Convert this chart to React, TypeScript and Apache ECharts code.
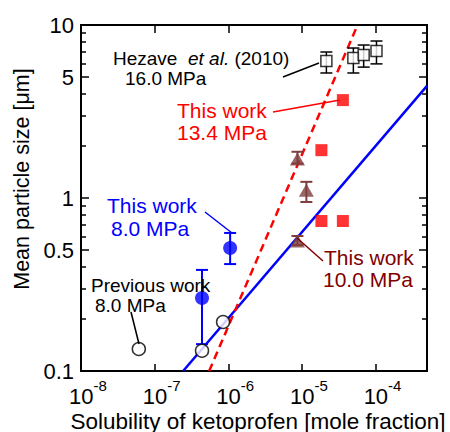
import React, { useEffect, useRef } from "react";
import * as echarts from "echarts";

const FONT = '"Liberation Sans", Arial, Helvetica, sans-serif';
const L = (v: number) => Math.log10(v);

// Axis ranges and ticks
const X_MIN = 1e-8;
const X_MAX = 5e-4;
const Y_MIN = 0.1;
const Y_MAX = 10;
const xTickValues = [1e-8, 1e-7, 1e-6, 1e-5, 1e-4];
const yLabelValues = [0.1, 0.5, 1, 5, 10];
const yMinorValues = [0.2, 0.3, 0.4, 0.6, 0.7, 0.8, 0.9, 2, 3, 4, 6, 7, 8, 9];

// Previous work 8.0 MPa (open circles)
const prevX = [6.1e-8, 4.4e-7, 8.5e-7];
const prevY = [0.134, 0.131, 0.192];

// This work 8.0 MPa (blue)
const blueX = [4.4e-7, 1.06e-6];
const blueY = [0.264, 0.514];
const blueLo = [0.143, 0.415];
const blueHi = [0.384, 0.628];

// This work 10.0 MPa (brown triangles)
const brownX = [8.7e-6, 1.15e-5, 8.7e-6];
const brownY = [1.68, 1.11, 0.564];
const brownLo = [1.58, 0.948, 0.535];
const brownHi = [1.85, 1.24, 0.603];

// This work 13.4 MPa (red squares)
const redX = [1.84e-5, 3.6e-5, 1.84e-5, 3.6e-5];
const redY = [1.89, 3.68, 0.736, 0.736];

// Hezave et al. (2010) 16.0 MPa (open squares)
const hezX = [2.15e-5, 5.0e-5, 6.9e-5, 1.03e-4];
const hezY = [6.2, 6.44, 6.71, 7.08];
const hezLo = [5.28, 5.28, 5.71, 5.96];
const hezHi = [6.98, 7.36, 7.66, 8.08];

// Fitted lines (end points)
const blueFitX = [2.44e-7, 5e-4];
const blueFitY = [0.1, 4.45];
const redFitX = [5.5e-7, 5.7e-5];
const redFitY = [0.1, 10];

const BROWN = "#7f3f3f";
const BROWN_TEXT = "#800000";

function pts(xs: number[], ys: number[]) {
  return xs.map((x, i) => [L(x), L(ys[i])]);
}
function errs(xs: number[], lo: number[], hi: number[]) {
  return xs.map((x, i) => [L(x), L(lo[i]), L(hi[i])]);
}
function errSeries(data: number[][], color: string, width: number) {
  return {
    type: "custom",
    xAxisIndex: 0,
    yAxisIndex: 0,
    z: 3,
    data,
    encode: { x: 0, y: [1, 2] },
    renderItem: (params: any, api: any) => {
      const x = api.value(0);
      const pLo = api.coord([x, api.value(1)]);
      const pHi = api.coord([x, api.value(2)]);
      const w = 6;
      const st = { stroke: color, lineWidth: width };
      return {
        type: "group",
        children: [
          { type: "line", shape: { x1: pLo[0], y1: pLo[1], x2: pHi[0], y2: pHi[1] }, style: st },
          { type: "line", shape: { x1: pLo[0] - w, y1: pLo[1], x2: pLo[0] + w, y2: pLo[1] }, style: st },
          { type: "line", shape: { x1: pHi[0] - w, y1: pHi[1], x2: pHi[0] + w, y2: pHi[1] }, style: st },
        ],
      };
    },
  };
}

function fmtY(v: number) {
  const r = Math.round(Math.pow(10, v) * 10) / 10;
  return String(r);
}

export default function App() {
  const ref = useRef<HTMLDivElement>(null);
  useEffect(() => {
    if (!ref.current) return;
    const chart = echarts.init(ref.current, null, { renderer: "svg" });
    const axisLine = { show: true, onZero: false, lineStyle: { color: "#000", width: 2 } };
    const tickStyle = { color: "#000", width: 1.5 };
    const xMin = L(X_MIN);
    const xMax = L(X_MAX);
    const yMin = L(Y_MIN);
    const yMax = L(Y_MAX);
    const xTicks = xTickValues.map(L);
    const yMajor = yLabelValues.map(L);
    const yMinor = yMinorValues.map(L);

    const yAxisBase = (position: string, ticks: number[], len: number, labels: boolean) => ({
      type: "value",
      position,
      min: yMin,
      max: yMax,
      splitLine: { show: false },
      axisLine,
      axisTick: { show: true, inside: true, length: len, customValues: ticks, lineStyle: tickStyle },
      axisLabel: labels
        ? {
            show: true,
            customValues: ticks,
            formatter: (v: number) => fmtY(v),
            fontSize: 22,
            fontFamily: FONT,
            color: "#000",
            margin: 7,
          }
        : { show: false },
    });

    const txt = (text: string, x: number, y: number, size: number, color: string) => ({
      type: "text",
      x,
      y,
      z: 20,
      style: { text, font: `${size}px ${FONT}`, fill: color, align: "left", verticalAlign: "middle" },
    });

    const option: any = {
      animation: false,
      backgroundColor: "#fff",
      grid: { left: 81, right: 23, top: 25, bottom: 61, containLabel: false, outerBoundsMode: "none" },
      xAxis: [
        {
          type: "value",
          position: "bottom",
          min: xMin,
          max: xMax,
          splitLine: { show: false },
          axisLine,
          axisTick: { show: true, inside: true, length: 7, customValues: xTicks, lineStyle: tickStyle },
          axisLabel: {
            show: true,
            customValues: xTicks,
            formatter: (v: number) => `{b|10}{s|${Math.round(v)}}`,
            margin: 7,
            padding: [0, 0, 0, 14],
            rich: {
              b: { fontSize: 22, fontFamily: FONT, color: "#000", lineHeight: 29, verticalAlign: "bottom" },
              s: { fontSize: 15, fontFamily: FONT, color: "#000", lineHeight: 15, verticalAlign: "top" },
            },
          },
        },
        {
          type: "value",
          position: "top",
          min: xMin,
          max: xMax,
          splitLine: { show: false },
          axisLine,
          axisTick: { show: true, inside: true, length: 8, customValues: xTicks, lineStyle: tickStyle },
          axisLabel: { show: false },
        },
      ],
      yAxis: [
        yAxisBase("left", yMajor, 8, true),
        yAxisBase("left", yMinor, 5, false),
        yAxisBase("right", yMajor, 8, false),
        yAxisBase("right", yMinor, 5, false),
      ],
      series: [
        {
          type: "line",
          data: pts(blueFitX, blueFitY),
          showSymbol: false,
          symbol: "none",
          lineStyle: { color: "#0000ff", width: 2.5 },
          z: 2,
        },
        {
          type: "line",
          data: pts(redFitX, redFitY),
          showSymbol: false,
          symbol: "none",
          lineStyle: { color: "#ff0000", width: 2.5, type: [8, 5] },
          z: 2,
        },
        errSeries(errs(blueX, blueLo, blueHi), "#0000ff", 2),
        errSeries(errs(brownX, brownLo, brownHi), BROWN, 2),
        errSeries(errs(hezX, hezLo, hezHi), "#000", 1.5),
        {
          type: "scatter",
          data: pts(prevX, prevY),
          symbol: "circle",
          symbolSize: 13,
          itemStyle: { color: "#fff", borderColor: "#000", borderWidth: 1.5 },
          z: 5,
        },
        {
          type: "scatter",
          data: pts(blueX, blueY),
          symbol: "circle",
          symbolSize: 14,
          itemStyle: { color: "#0000ff" },
          z: 5,
        },
        {
          type: "scatter",
          data: pts(brownX, brownY),
          symbol: "triangle",
          symbolSize: [15, 13],
          itemStyle: { color: BROWN },
          z: 5,
        },
        {
          type: "scatter",
          data: pts(redX, redY),
          symbol: "rect",
          symbolSize: 12,
          itemStyle: { color: "#ff0000" },
          z: 5,
        },
        {
          type: "scatter",
          data: pts(hezX, hezY),
          symbol: "rect",
          symbolSize: 11,
          itemStyle: { color: "#fff", borderColor: "#000", borderWidth: 1.5 },
          z: 5,
        },
      ],
      graphic: [
        // axis names
        {
          type: "text",
          x: 258,
          y: 421,
          style: {
            text: "Solubility of ketoprofen [mole fraction]",
            font: `22.5px ${FONT}`,
            fill: "#000",
            align: "center",
            verticalAlign: "middle",
          },
        },
        {
          type: "text",
          x: 22,
          y: 179,
          rotation: Math.PI / 2,
          style: {
            text: "Mean particle size [\u03bcm]",
            font: `21.5px ${FONT}`,
            fill: "#000",
            align: "center",
            verticalAlign: "middle",
          },
        },
        // leader lines
        { type: "line", z: 10, shape: { x1: 283, y1: 77, x2: 319, y2: 63 }, style: { stroke: "#000", lineWidth: 1.5 } },
        { type: "line", z: 10, shape: { x1: 273, y1: 112, x2: 340, y2: 100 }, style: { stroke: "#ff0000", lineWidth: 1.5 } },
        { type: "line", z: 10, shape: { x1: 205, y1: 212, x2: 232, y2: 233 }, style: { stroke: "#0000ff", lineWidth: 1.5 } },
        { type: "line", z: 10, shape: { x1: 297, y1: 238, x2: 323, y2: 261 }, style: { stroke: BROWN_TEXT, lineWidth: 1.5 } },
        { type: "line", z: 10, shape: { x1: 131, y1: 312, x2: 139, y2: 344 }, style: { stroke: "#000", lineWidth: 1.5 } },
        // labels
        {
          type: "text",
          x: 113,
          y: 58,
          z: 20,
          style: {
            text: "{n|Hezave  }{i|et al.}{n| (2010)}",
            rich: {
              n: { fontSize: 19, fontFamily: FONT, fill: "#000" },
              i: { fontSize: 19, fontFamily: FONT, fontStyle: "italic", fill: "#000" },
            },
            align: "left",
            verticalAlign: "middle",
          },
        },
        txt("16.0 MPa", 125, 78, 19, "#000"),
        txt("This work", 177, 110, 21, "#ff0000"),
        txt("13.4 MPa", 177, 132, 21, "#ff0000"),
        txt("This work", 107, 205, 21, "#0000ff"),
        txt("8.0 MPa", 111, 228, 21, "#0000ff"),
        txt("Previous work", 91, 285, 19, "#000"),
        txt("8.0 MPa", 95, 305, 19, "#000"),
        txt("This work", 324, 257, 21, BROWN_TEXT),
        txt("10.0 MPa", 323, 279, 21, BROWN_TEXT),
      ],
    };
    chart.setOption(option);
    return () => chart.dispose();
  }, []);
  return <div ref={ref} style={{ width: 450, height: 432, position: "absolute", left: 0, top: 0 }} />;
}
